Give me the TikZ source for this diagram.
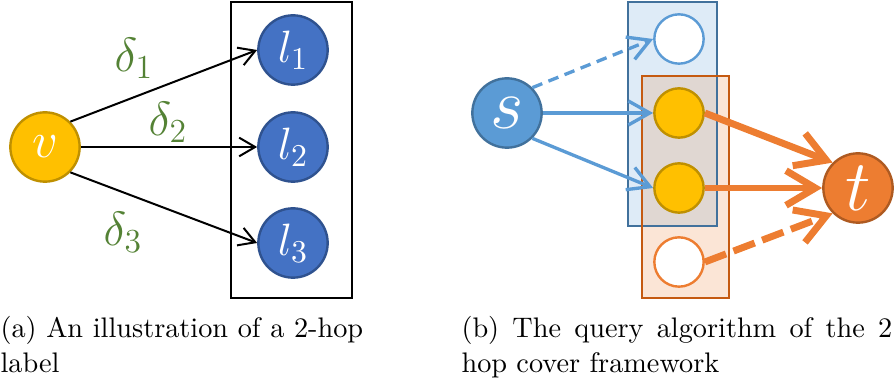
\RequirePackage{fix-cm}
\documentclass[tikz,border=0pt]{standalone}
\usetikzlibrary{arrows.meta}
\definecolor{gold}{HTML}{FFC000}
\definecolor{goldline}{HTML}{BF9000}
\definecolor{navy}{HTML}{4472C4}
\definecolor{navyline}{HTML}{2F528F}
\definecolor{leaf}{HTML}{548235}
\definecolor{sky}{HTML}{5B9BD5}
\definecolor{skyline}{HTML}{41719C}
\definecolor{skyfill}{HTML}{DEEBF7}
\definecolor{tangerine}{HTML}{ED7D31}
\definecolor{tangline}{HTML}{AE5A21}
\definecolor{peachline}{HTML}{C55A11}
\definecolor{peachfill}{HTML}{FBE5D6}
\definecolor{mixfill}{HTML}{E0D7D2}
\tikzset{
  vert/.style={circle, inner sep=0pt, line width=0.9pt},
  bigvert/.style={vert, minimum size=26pt},
  smallvert/.style={vert, minimum size=18.5pt},
  thinarrow/.style={line width=0.75pt, -{Straight Barb[length=6pt,width=7pt]}},
  bluearrow/.style={draw=sky, line width=1.25pt, -{Straight Barb[length=8pt,width=9pt]}},
  orangearrow/.style={draw=tangerine, line width=2.6pt, -{Straight Barb[length=11pt,width=13pt]}},
  weight/.style={text=leaf, font=\fontsize{18}{18}\selectfont},
  caption/.style={anchor=base west, inner sep=0pt, font=\fontsize{10.6}{13}\selectfont},
}
\begin{document}
\begin{tikzpicture}[x=0.375pt,y=-0.375pt]
\useasboundingbox (0,0) rectangle (894,387);

% ---- (a) a vertex and its 2-hop label entries ----
\node[draw, line width=0.75pt, minimum width=45.4pt, minimum height=111pt, inner sep=0pt] (lab) at (291.5,150) {};
\node[bigvert, fill=gold, draw=goldline, text=white] (v) at (45,147) {\fontsize{19}{19}\selectfont$v$};
\node[bigvert, fill=navy, draw=navyline, text=white] (l1) at (293,50) {\fontsize{17}{17}\selectfont$l_1$};
\node[bigvert, fill=navy, draw=navyline, text=white] (l2) at (293,147) {\fontsize{17}{17}\selectfont$l_2$};
\node[bigvert, fill=navy, draw=navyline, text=white] (l3) at (293,243) {\fontsize{17}{17}\selectfont$l_3$};
\draw[thinarrow] (v.north east) -- (l1.west);
\draw[thinarrow] (v.east) -- (l2.west);
\draw[thinarrow] (v.south east) -- (l3.west);
\node[weight] (d1) at (134,58) {$\delta_1$};
\node[weight] (d2) at (168,122) {$\delta_2$};
\node[weight] (d3) at (123,232) {$\delta_3$};

% ---- (b) query: labels of s and t meet in common hops ----
\fill[skyfill] (628,2) rectangle (717,226);
\fill[peachfill] (642,76) rectangle (729,298);
\fill[mixfill] (642,76) rectangle (717,226);
\draw[skyline, line width=0.9pt] (628,2) rectangle (717,226);
\draw[peachline, line width=0.9pt] (642,76) rectangle (729,298);

\node[bigvert, fill=sky, draw=skyline, text=white] (s) at (507,113) {\fontsize{27}{27}\selectfont$s$};
\node[bigvert, fill=tangerine, draw=tangline, text=white] (t) at (858,188) {\fontsize{27}{27}\selectfont$t$};
\node[smallvert, fill=white, draw=sky] (w1) at (679,39) {};
\node[smallvert, fill=gold, draw=goldline] (y1) at (679,113) {};
\node[smallvert, fill=gold, draw=goldline] (y2) at (679,188) {};
\node[smallvert, fill=white, draw=tangerine] (w2) at (679,262) {};

\draw[bluearrow, dash pattern=on 4pt off 2.5pt] (s.north east) -- (w1.west);
\draw[bluearrow] (s.east) -- (y1.west);
\draw[bluearrow] (s.south east) -- (y2.west);
\draw[orangearrow] (y1.east) -- (t.north west);
\draw[orangearrow] (y2.east) -- (t.west);
\draw[orangearrow, dash pattern=on 8.5pt off 3pt] (w2.east) -- (t.south west);

% ---- captions ----
\node[caption] (capa1) at (0,338) {\makebox[136pt][s]{(a) An illustration of a 2-hop}};
\node[caption] (capa2) at (0,373) {label};
\node[caption] (capb1) at (461,338) {\makebox[161.5pt][s]{(b) The query algorithm of the 2}};
\node[caption] (capb2) at (461,373) {hop cover framework};
\end{tikzpicture}
\end{document}
